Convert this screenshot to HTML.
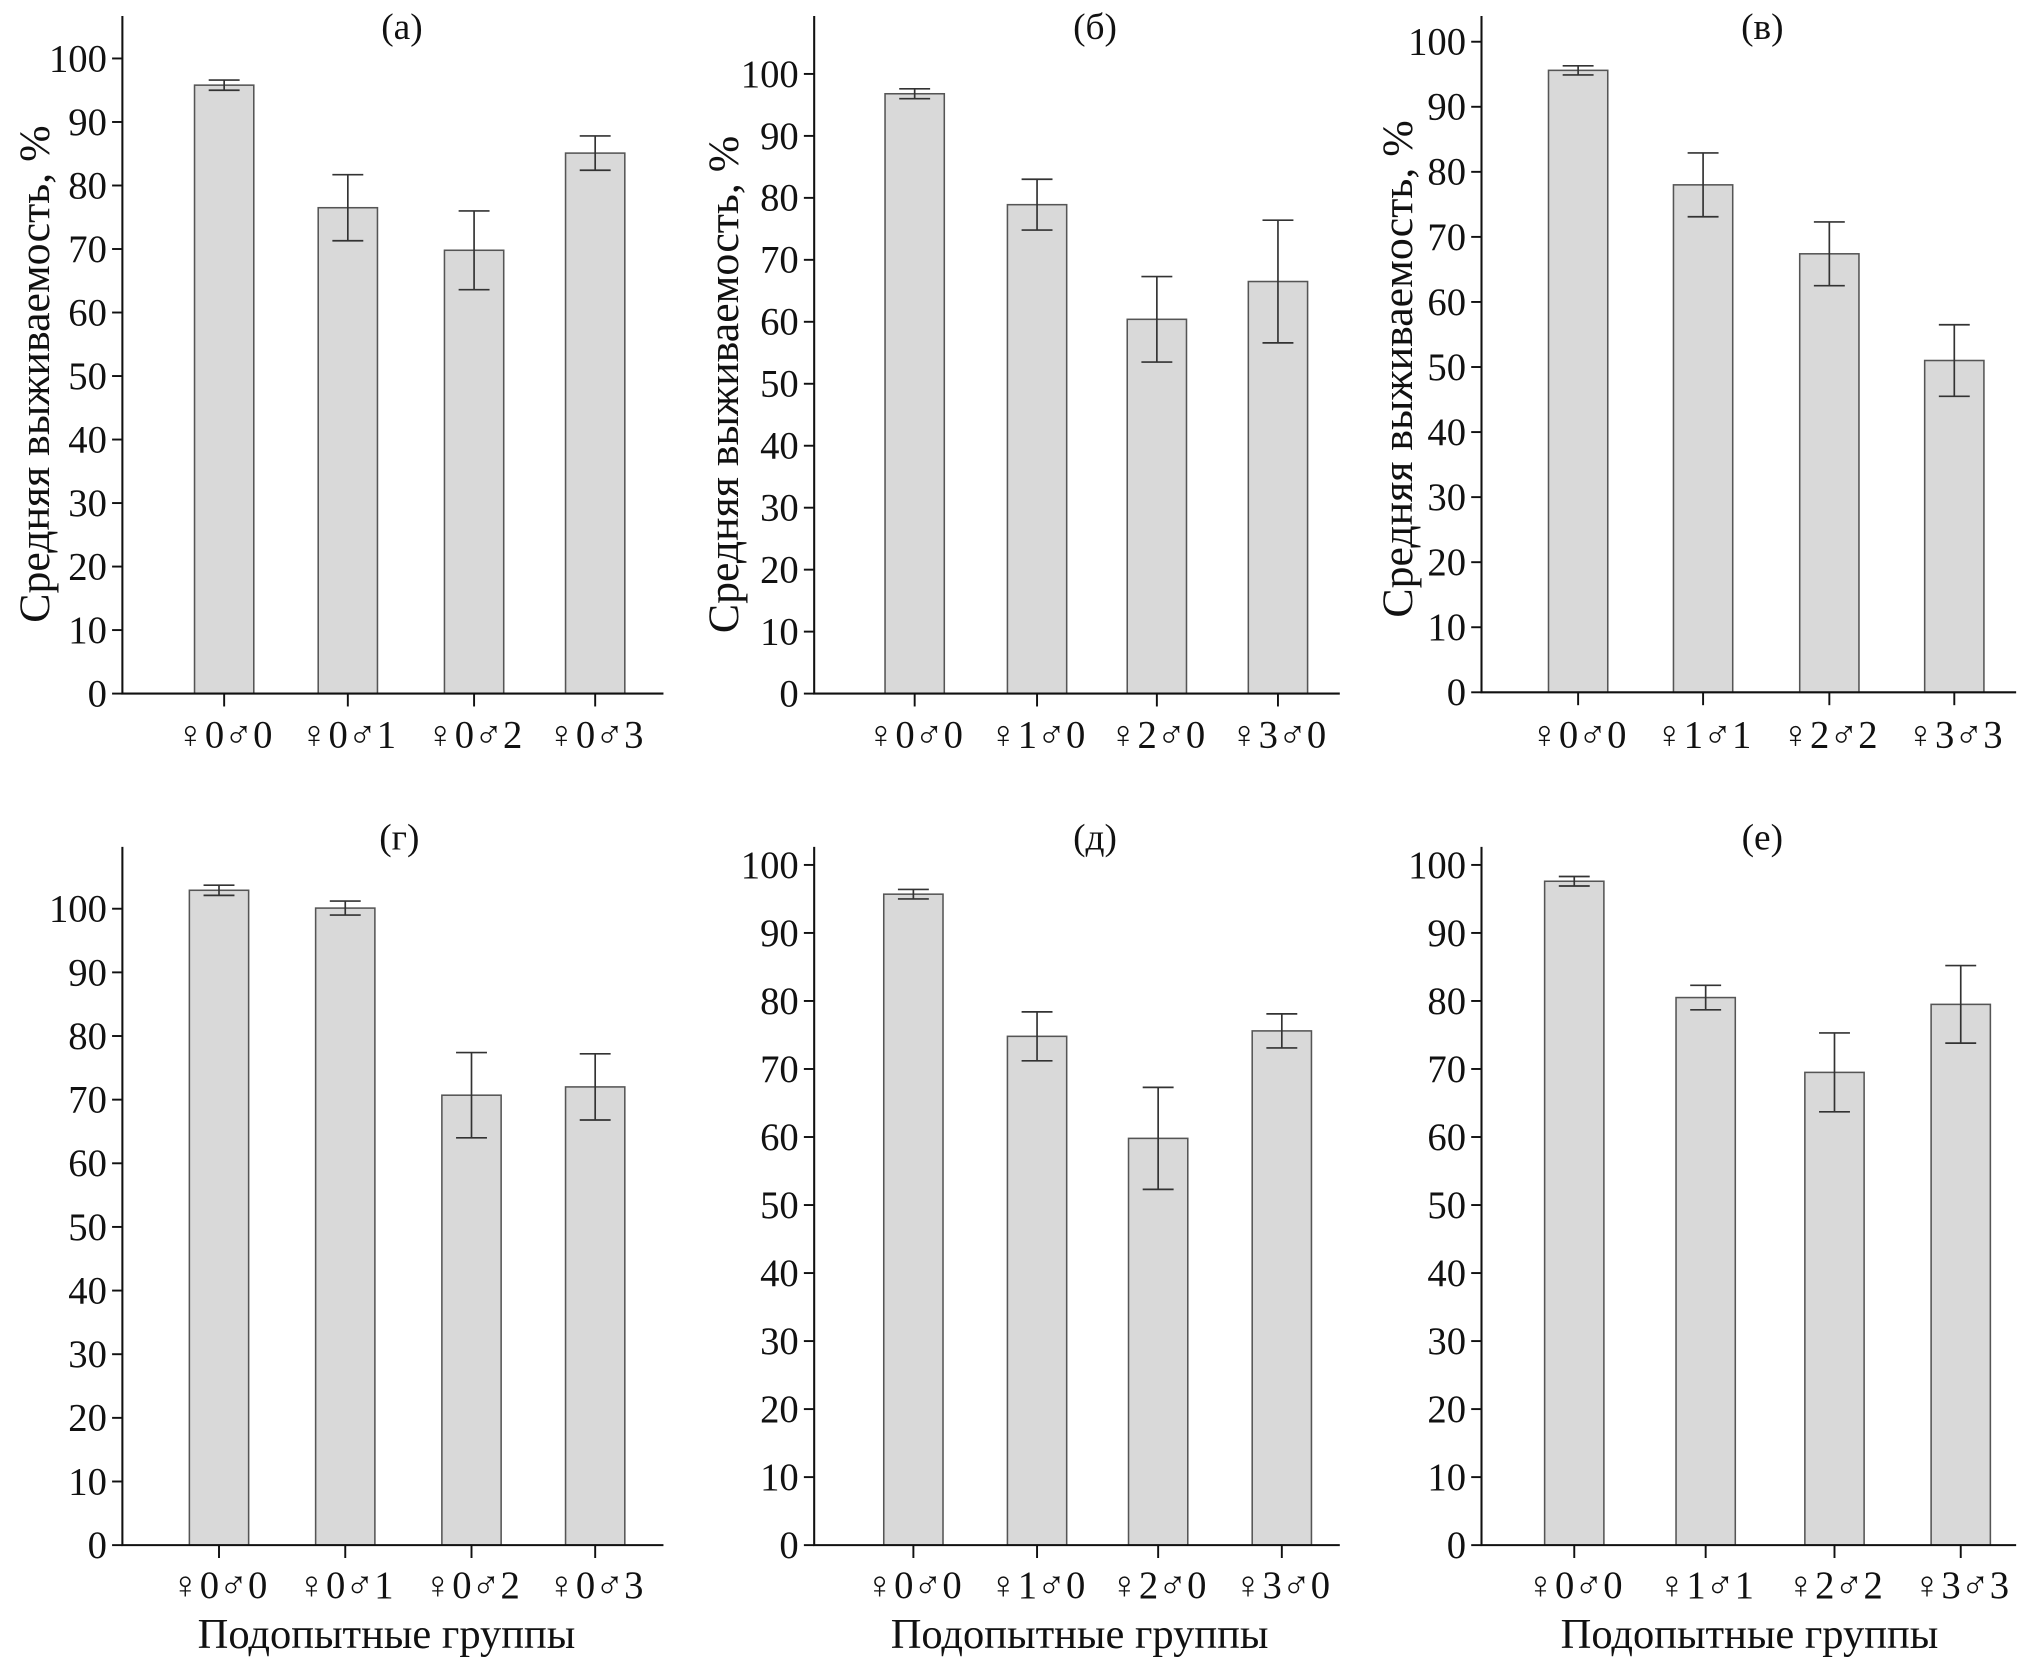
<!DOCTYPE html>
<html><head><meta charset="utf-8"><style>
html,body{margin:0;padding:0;background:#fff}
svg{display:block}
text{font-family:"Liberation Serif","Times New Roman",serif;fill:#111}
</style></head><body>
<svg id="chart" width="2020" height="1659" viewBox="0 0 1568 1287" xmlns="http://www.w3.org/2000/svg"></svg>
<script>
const titles = ["(а)","(б)","(в)","(г)","(д)","(е)"];
const catsA = ["♀0♂0","♀0♂1","♀0♂2","♀0♂3"];
const catsB = ["♀0♂0","♀1♂0","♀2♂0","♀3♂0"];
const catsC = ["♀0♂0","♀1♂1","♀2♂2","♀3♂3"];
const valsA = [95.8,76.5,69.8,85.1];
const errA  = [0.8,5.2,6.2,2.7];
const valsB = [96.8,78.9,60.4,66.5];
const errB  = [0.8,4.1,6.9,9.9];
const valsC = [95.6,78.0,67.4,51.0];
const errC  = [0.7,4.9,4.9,5.5];
const valsD = [102.9,100.1,70.7,72.0];
const errD  = [0.8,1.1,6.7,5.2];
const valsE = [95.7,74.8,59.8,75.6];
const errE  = [0.7,3.6,7.5,2.5];
const valsF = [97.6,80.5,69.5,79.5];
const errF  = [0.7,1.8,5.8,5.7];
const yTicks = [0,10,20,30,40,50,60,70,80,90,100];
const yTitle = "Средняя выживаемость, %";
const xTitle = "Подопытные группы";

const panels = [
 {t:0,cats:catsA,v:valsA,e:errA,ax:95,y0:538,y100:45,top:12,xr:515,cx:[174,270,368,462],tx:312,ty:30,yt:[28,290],xlY:580},
 {t:1,cats:catsB,v:valsB,e:errB,ax:632,y0:538,y100:57,top:12,xr:1040,cx:[710,805,898,992],tx:850,ty:30,yt:[563,298],xlY:580},
 {t:2,cats:catsC,v:valsC,e:errC,ax:1150,y0:537,y100:32,top:12,xr:1565,cx:[1225,1322,1420,1517],tx:1368,ty:30,yt:[1086,286],xlY:580},
 {t:3,cats:catsA,v:valsD,e:errD,ax:95,y0:1199,y100:705,top:657,xr:515,cx:[170,268,366,462],tx:310,ty:659,xt:300,xlY:1240},
 {t:4,cats:catsB,v:valsE,e:errE,ax:632,y0:1199,y100:671,top:657,xr:1040,cx:[709,805,899,995],tx:850,ty:659,xt:838,xlY:1240},
 {t:5,cats:catsC,v:valsF,e:errF,ax:1150,y0:1199,y100:671,top:657,xr:1565,cx:[1222,1324,1424,1522],tx:1368,ty:659,xt:1358,xlY:1240}
];
const svg = document.getElementById('chart');
const NS = "http://www.w3.org/2000/svg";
function mk(tag, attrs, parent){const el=document.createElementNS(NS,tag);for(const k in attrs)el.setAttribute(k,attrs[k]);(parent||svg).appendChild(el);return el;}
panels.forEach((p,pi)=>{
  const g = mk('g',{});
  
  
  const y = v => p.y0 - (p.y0-p.y100)*v/100;
  const bw = 46;
  p.v.forEach((v,i)=>{
    const x = p.cx[i];
    const r = mk('rect',{x:x-bw/2,y:y(v),width:bw,height:p.y0-y(v),fill:'#d9d9d9',stroke:'#555','stroke-width':1.2},g);
    
    
    const e = p.e[i];
    const eb = mk('path',{d:`M${x},${y(v+e)}V${y(v-e)}M${x-12},${y(v+e)}H${x+12}M${x-12},${y(v-e)}H${x+12}`,stroke:'#333','stroke-width':1.3,fill:'none'},g);
    
    
    mk('line',{x1:x,x2:x,y1:p.y0,y2:p.y0+10,stroke:'#111','stroke-width':1.5},g);
    const lt = mk('text',{x:x,y:p.xlY,'text-anchor':'middle','font-size':30},g);
    lt.textContent = p.cats[i];
    
    
  });
  const axes = mk('path',{d:`M${p.ax},${p.top}V${p.y0}H${p.xr}`,stroke:'#111','stroke-width':1.6,fill:'none'},g);
  
  
  yTicks.forEach(t=>{
    mk('line',{x1:p.ax-8,x2:p.ax,y1:y(t),y2:y(t),stroke:'#111','stroke-width':1.5},g);
    const tl = mk('text',{x:p.ax-12,y:y(t)+10,'text-anchor':'end','font-size':30},g);
    tl.textContent = t;
    
    
  });
  const tt = mk('text',{x:p.tx,y:p.ty,'text-anchor':'middle','font-size':29},g);
  tt.textContent = titles[p.t];
  
  
  if(p.yt){
    const yl = mk('text',{x:0,y:0,'text-anchor':'middle','font-size':34,transform:`translate(${p.yt[0]+10},${p.yt[1]}) rotate(-90)`},g);
    yl.textContent = yTitle;
    
    
  }
  if(p.xt){
    const xl = mk('text',{x:p.xt,y:1279,'text-anchor':'middle','font-size':33},g);
    xl.textContent = xTitle;
    
    
  }
});
</script>
</body></html>
